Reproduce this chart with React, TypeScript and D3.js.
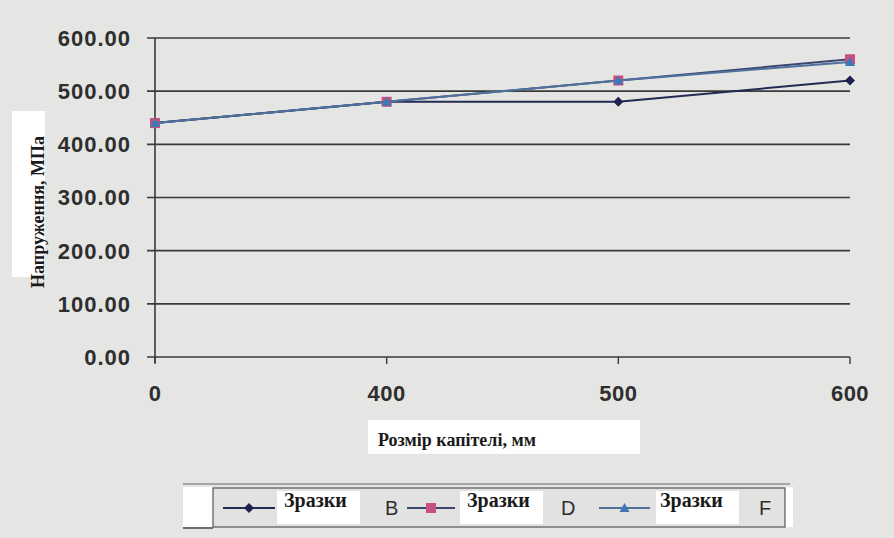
import React from "react";
import * as d3 from "d3";

const categories = ["0", "400", "500", "600"];
const seriesB = [440, 480, 480, 520];
const seriesD = [440, 480, 520, 560];
const seriesF = [440, 480, 520, 555];
const yTicks = [0, 100, 200, 300, 400, 500, 600];
const legendNames = ["Зразки", "Зразки", "Зразки"];
const legendLetters = ["B", "D", "F"];

const W = 894, H = 538;
const left = 155, right = 850, top = 38, bottom = 357;

export default function App() {
  const x = d3.scalePoint<string>().domain(categories).range([left, right]);
  const y = d3.scaleLinear().domain([0, 600]).range([bottom, top]);
  const line = d3.line<number>().x((_, i) => x(categories[i])!).y((d) => y(d));

  const series = [
    { data: seriesB, line: "#232a55", marker: "#1c2150", shape: "diamond" },
    { data: seriesD, line: "#3a4670", marker: "#c8507e", shape: "square" },
    { data: seriesF, line: "#4f719c", marker: "#3f78b6", shape: "triangle" },
  ];

  const marker = (shape: string, cx: number, cy: number, color: string, k: string) => {
    if (shape === "diamond")
      return <path key={k} d={`M${cx},${cy - 5}L${cx + 5},${cy}L${cx},${cy + 5}L${cx - 5},${cy}Z`} fill={color} />;
    if (shape === "square")
      return <rect key={k} x={cx - 5} y={cy - 5} width={10} height={10} fill={color} />;
    return <path key={k} d={`M${cx},${cy - 5}L${cx + 5},${cy + 4}L${cx - 5},${cy + 4}Z`} fill={color} />;
  };

  const legendItems = [
    { lx: 223, lw: 52, boxX: 277, boxW: 83, tx: 284, letterX: 385 },
    { lx: 407, lw: 48, boxX: 460, boxW: 83, tx: 467, letterX: 561 },
    { lx: 599, lw: 51, boxX: 656, boxW: 83, tx: 660, letterX: 759 },
  ];

  return (
    <svg width={W} height={H} style={{ position: "absolute", left: 0, top: 0 }}>
      <rect x={0} y={0} width={W} height={H} fill="#e5e5e3" />
      {yTicks.map((t) => (
        <g key={t}>
          <line x1={left - 8} x2={right} y1={y(t)} y2={y(t)} stroke="#3a3a3a" strokeWidth={1.6} />
          <text x={131} y={y(t)} dy="0.36em" textAnchor="end" fontFamily="Liberation Sans, Arial, sans-serif" fontWeight="bold" fontSize={22} letterSpacing={1} fill="#2e2e2e">
            {t.toFixed(2)}
          </text>
        </g>
      ))}
      <line x1={left} x2={left} y1={top} y2={bottom + 6} stroke="#3a3a3a" strokeWidth={1.6} />
      {categories.map((c) => (
        <g key={c}>
          <line x1={x(c)!} x2={x(c)!} y1={bottom} y2={bottom + 7} stroke="#3a3a3a" strokeWidth={1.4} />
          <text x={x(c)!} y={401} textAnchor="middle" fontFamily="Liberation Sans, Arial, sans-serif" fontWeight="bold" fontSize={22} letterSpacing={0.5} fill="#2e2e2e">
            {c}
          </text>
        </g>
      ))}
      {series.map((s, si) => (
        <g key={si}>
          <path d={line(s.data)!} fill="none" stroke={s.line} strokeWidth={2} />
          {s.data.map((v, i) => marker(s.shape, x(categories[i])!, y(v), s.marker, `${si}-${i}`))}
        </g>
      ))}
      <rect x={12} y={111} width={33} height={166} fill="#ffffff" />
      <text transform="translate(44,212) rotate(-90)" textAnchor="middle" fontFamily="Liberation Serif, Times New Roman, serif" fontWeight="bold" fontSize={18} fill="#1a1a1a">
        Напруження, МПа
      </text>
      <rect x={368} y={420} width={272} height={34} fill="#ffffff" />
      <text x={378} y={446} fontFamily="Liberation Serif, Times New Roman, serif" fontWeight="bold" fontSize={18} fill="#1a1a1a">
        Розмір капітелі, мм
      </text>
      <line x1={183} x2={790} y1={484} y2={484} stroke="#666" strokeWidth={1} />
      <rect x={183} y={487} width={30} height={40} fill="#ffffff" />
      <line x1={183} x2={213} y1={528} y2={528} stroke="#444" strokeWidth={1.5} />
      <rect x={785} y={487} width={8} height={40} fill="#ffffff" />
      <rect x={213} y={488} width={572} height={39} fill="#e2e2e0" stroke="#555" strokeWidth={1.2} />
      {series.map((s, i) => {
        const it = legendItems[i];
        return (
          <g key={i}>
            <rect x={it.boxX} y={491} width={it.boxW} height={33} fill="#ffffff" />
            <line x1={it.lx} x2={it.lx + it.lw} y1={508} y2={508} stroke={s.line} strokeWidth={2} />
            {marker(s.shape, it.lx + it.lw / 2, 508, s.marker, `l${i}`)}
            <text x={it.tx} y={507} fontFamily="Liberation Serif, Times New Roman, serif" fontWeight="bold" fontSize={20} fill="#1a1a1a">
              {legendNames[i]}
            </text>
            <text x={it.letterX} y={515} fontFamily="Liberation Sans, Arial, sans-serif" fontSize={20} fill="#2e2e2e">
              {legendLetters[i]}
            </text>
          </g>
        );
      })}
    </svg>
  );
}
